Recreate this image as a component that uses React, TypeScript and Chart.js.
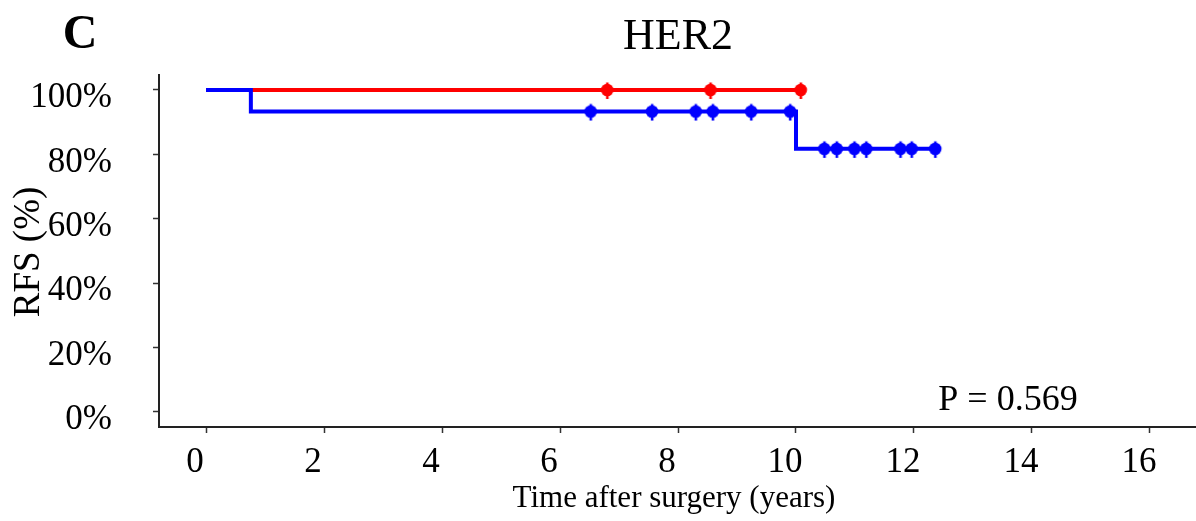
import React, { useEffect, useRef } from "react";
import { Chart, registerables } from "chart.js";

Chart.register(...registerables);

// ---- Data ----
const blueEventTimes = [0, 0.76, 10.0];
const blueSurvival = [100, 93.3, 81.7];
const blueEndTime = 12.36;
const blueCensorTimes = [6.52, 7.56, 8.3, 8.59, 9.24, 9.9, 10.48, 10.69, 10.99, 11.19, 11.77, 11.96, 12.36];

const redEventTimes = [0];
const redSurvival = [100];
const redEndTime = 10.08;
const redCensorTimes = [6.8, 8.55, 10.08];

const xTickValues = [0, 2, 4, 6, 8, 10, 12, 14, 16];
const yTickValues = [0, 20, 40, 60, 80, 100];

const panelLabel = "C";
const chartTitle = "HER2";
const xAxisTitle = "Time after surgery (years)";
const yAxisTitle = "RFS (%)";
const pValueText = "P = 0.569";

const SERIF = '"Liberation Serif", "Times New Roman", serif';

function survAt(times: number[], surv: number[], t: number) {
  let s = surv[0];
  for (let i = 0; i < times.length; i++) if (times[i] <= t) s = surv[i];
  return s;
}

function stepPoints(times: number[], surv: number[], end: number) {
  const pts = times.map((t, i) => ({ x: t, y: surv[i] }));
  pts.push({ x: end, y: surv[surv.length - 1] });
  return pts;
}

function makeCensorMark(color: string) {
  const c = document.createElement("canvas");
  c.width = 16;
  c.height = 22;
  const g = c.getContext("2d")!;
  g.fillStyle = color;
  g.beginPath();
  g.arc(8, 11, 6.3, 0, Math.PI * 2);
  g.fill();
  g.fillRect(6.8, 11, 2.6, 9);
  g.fillRect(6.8, 3.5, 2.6, 7.5);
  return c;
}

const textPlugin = {
  id: "textPlugin",
  afterDraw(chart: any) {
    const ctx = chart.ctx;
    ctx.save();
    ctx.fillStyle = "#000";
    ctx.textAlign = "center";
    ctx.textBaseline = "middle";
    ctx.font = `bold 48px ${SERIF}`;
    ctx.fillText(panelLabel, 80, 36);
    ctx.font = `44px ${SERIF}`;
    ctx.fillText(chartTitle, 678, 37);
    ctx.font = `31px ${SERIF}`;
    ctx.fillText(xAxisTitle, 674, 499);
    ctx.font = `36px ${SERIF}`;
    ctx.fillText(pValueText, 1008, 401);
    ctx.save();
    ctx.translate(29, 252);
    ctx.rotate(-Math.PI / 2);
    ctx.font = `37px ${SERIF}`;
    ctx.fillText(yAxisTitle, 0, 0);
    ctx.restore();
    ctx.restore();
  },
};

export default function App() {
  const ref = useRef<HTMLCanvasElement | null>(null);

  useEffect(() => {
    document.body.style.margin = "0";
    const canvas = ref.current!;
    const blueMark = makeCensorMark("#0000FF");
    const redMark = makeCensorMark("#FF0000");
    const chart = new Chart(canvas, {
      type: "scatter",
      data: {
        datasets: [
          {
            label: "blue censor",
            data: blueCensorTimes.map((t) => ({ x: t, y: survAt(blueEventTimes, blueSurvival, t) })),
            showLine: false,
            pointStyle: blueMark as any,
            pointRadius: 6,
            order: 0,
          },
          {
            label: "red censor",
            data: redCensorTimes.map((t) => ({ x: t, y: survAt(redEventTimes, redSurvival, t) })),
            showLine: false,
            pointStyle: redMark as any,
            pointRadius: 6,
            order: 1,
          },
          {
            label: "blue",
            data: stepPoints(blueEventTimes, blueSurvival, blueEndTime),
            showLine: true,
            stepped: "before",
            borderColor: "#0000FF",
            borderWidth: 4,
            pointRadius: 0,
            order: 2,
          },
          {
            label: "red",
            data: stepPoints(redEventTimes, redSurvival, redEndTime),
            showLine: true,
            stepped: "before",
            borderColor: "#FF0000",
            borderWidth: 4,
            pointRadius: 0,
            order: 3,
          },
        ],
      },
      options: {
        animation: false,
        responsive: false,
        maintainAspectRatio: false,
        layout: { autoPadding: false, padding: { top: 75, right: 0, left: 0, bottom: 0 } },
        plugins: {
          legend: { display: false },
          tooltip: { enabled: false },
          title: { display: false },
        },
        scales: {
          x: {
            type: "linear",
            min: -0.797,
            max: 16.78,
            afterBuildTicks: (scale: any) => {
              scale.ticks = xTickValues.map((v) => ({ value: v }));
            },
            afterFit: (scale: any) => {
              scale.height = 94;
              scale.paddingLeft = 0;
              scale.paddingRight = 0;
            },
            border: { display: true, color: "#222", width: 2 },
            grid: {
              display: true,
              drawOnChartArea: false,
              drawTicks: true,
              tickLength: 6,
              tickColor: "#333",
              tickWidth: 1.5,
            },
            ticks: {
              color: "#000",
              font: { family: SERIF, size: 35 },
              padding: 9,
              labelOffset: -11,
              maxRotation: 0,
              autoSkip: false,
            },
          },
          y: {
            type: "linear",
            min: -4.76,
            max: 104.66,
            afterBuildTicks: (scale: any) => {
              scale.ticks = yTickValues.map((v) => ({ value: v }));
            },
            afterFit: (scale: any) => {
              scale.width = 159;
              scale.paddingTop = 0;
              scale.paddingBottom = 0;
            },
            border: { display: true, color: "#222", width: 2 },
            grid: {
              display: true,
              drawOnChartArea: false,
              drawTicks: true,
              tickLength: 6,
              tickColor: "#333",
              tickWidth: 1.5,
            },
            ticks: {
              color: "#000",
              font: { family: SERIF, size: 35 },
              padding: 41,
              labelOffset: 8,
              autoSkip: false,
              callback: (v: any) => `${v}%`,
            },
          },
        },
      },
      plugins: [textPlugin],
    });
    return () => chart.destroy();
  }, []);

  return <canvas ref={ref} width={1196} height={521} style={{ display: "block" }} />;
}
